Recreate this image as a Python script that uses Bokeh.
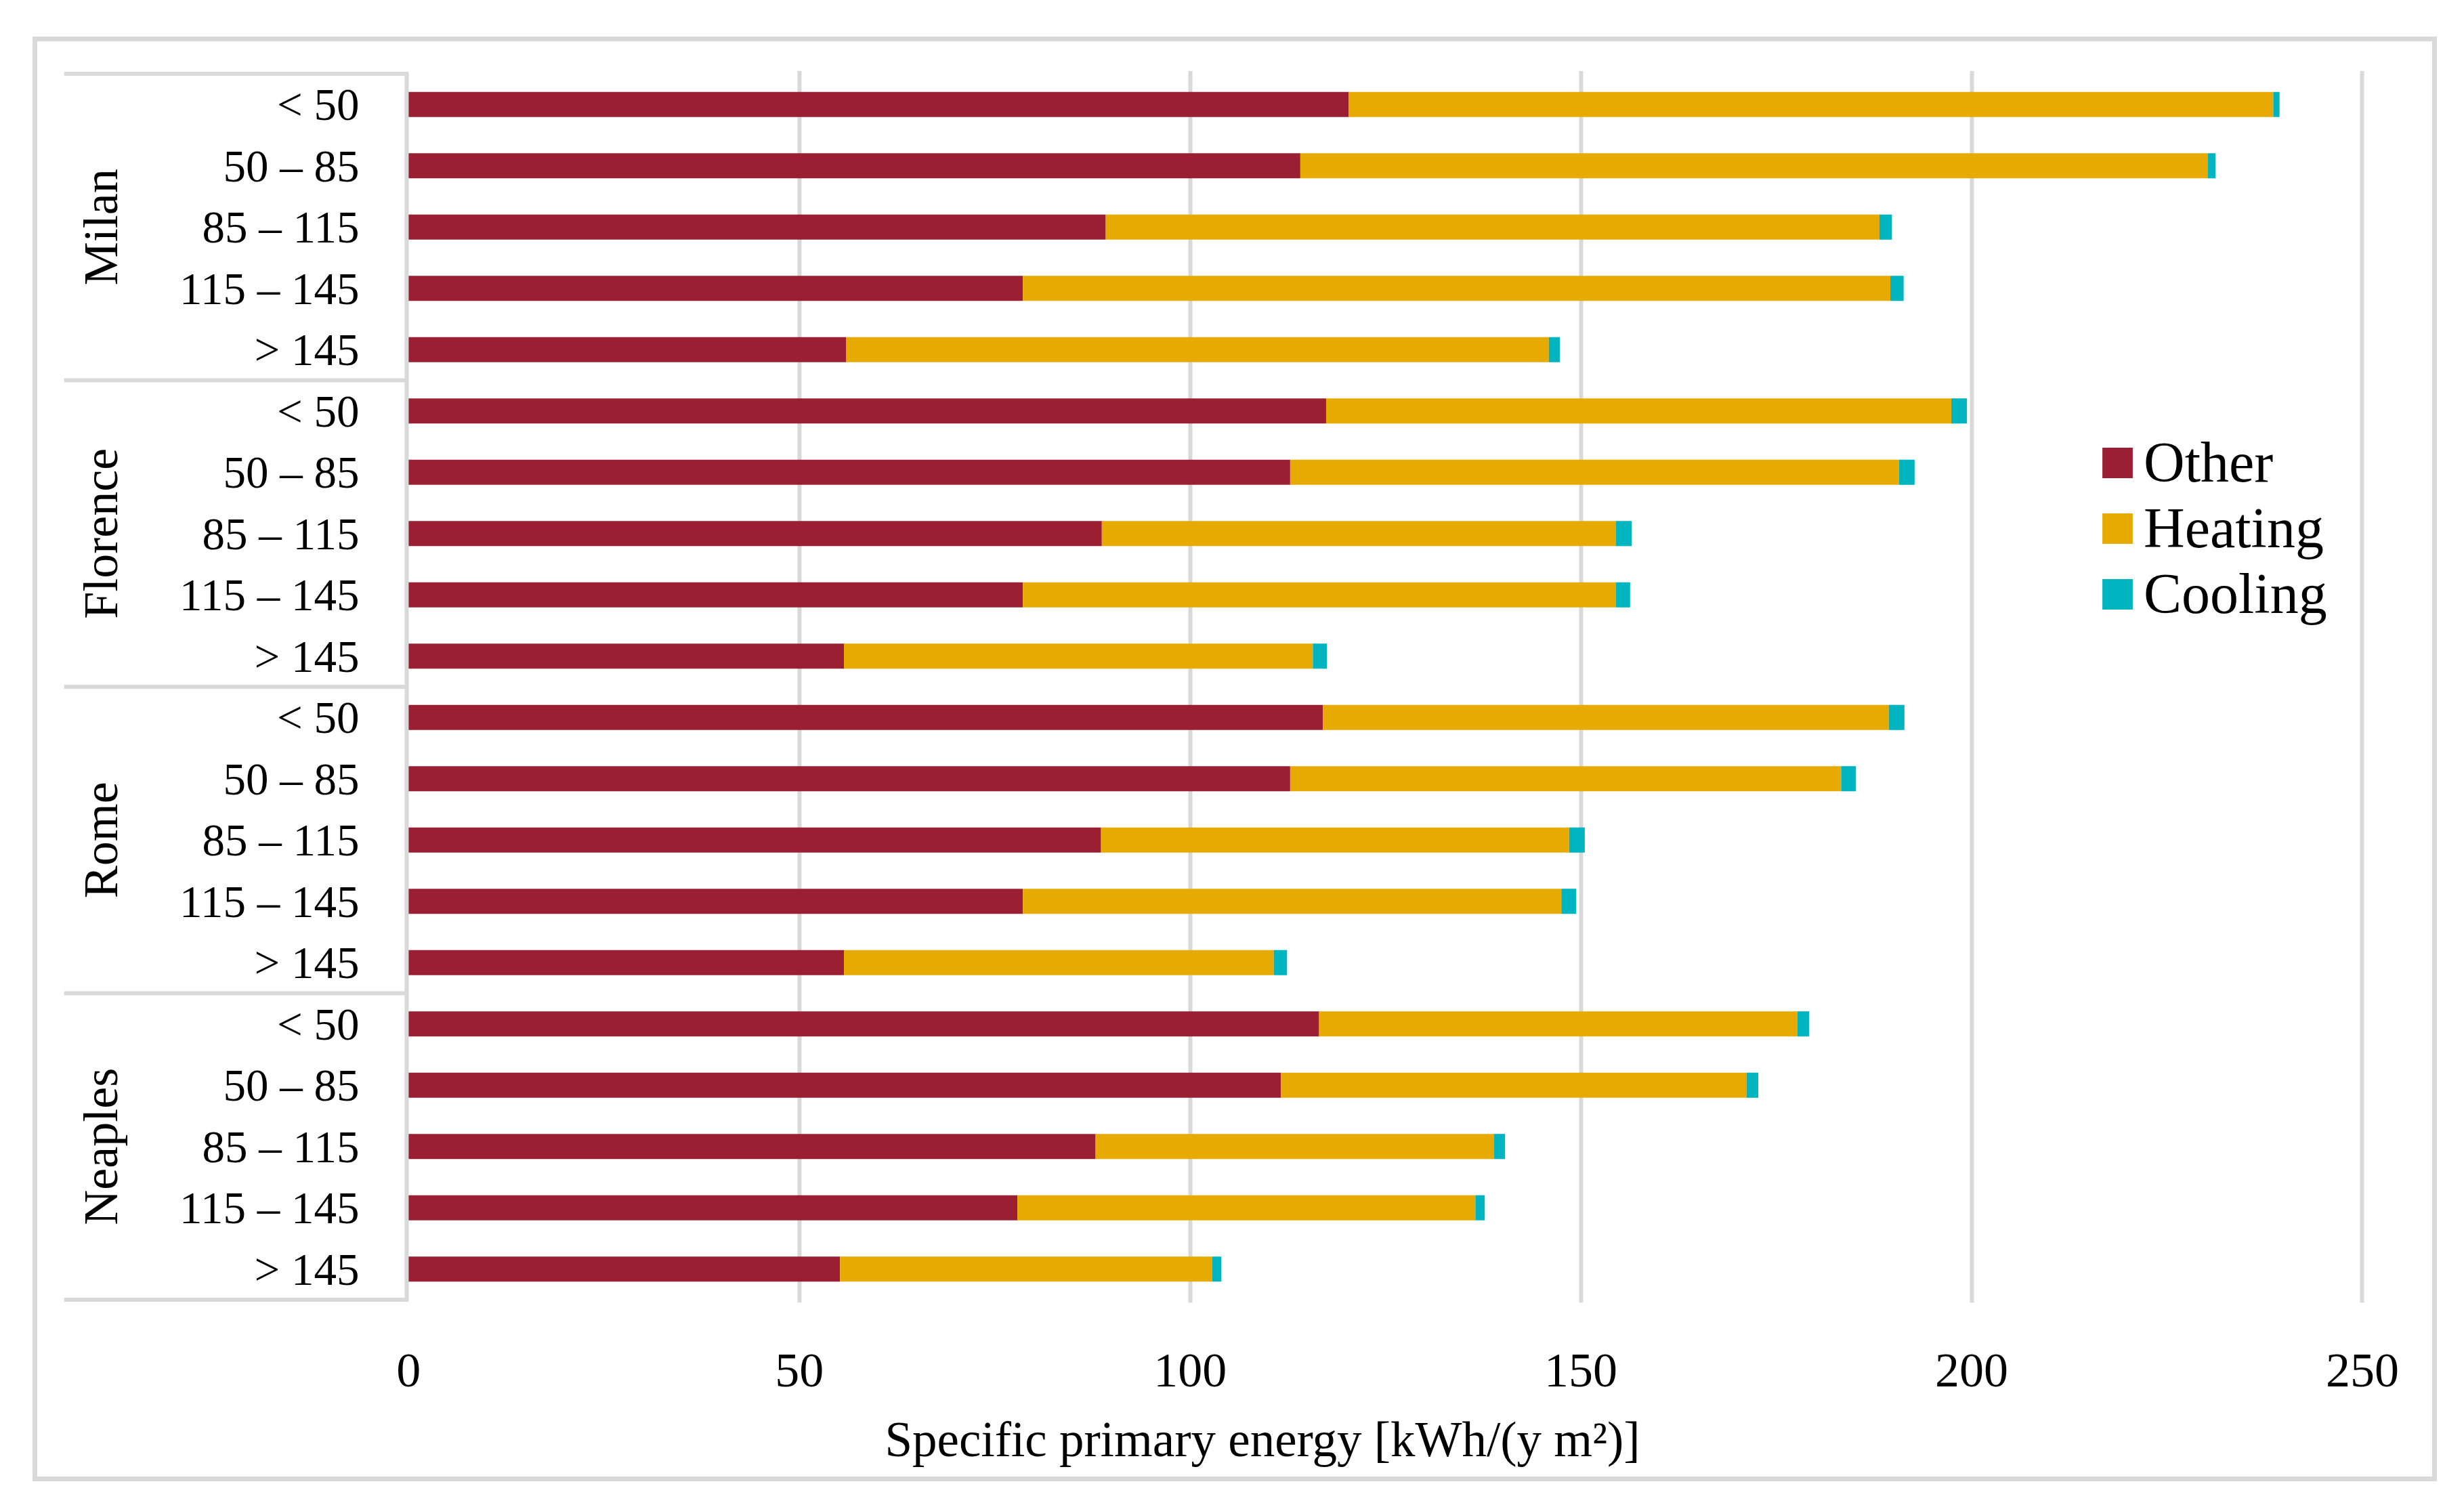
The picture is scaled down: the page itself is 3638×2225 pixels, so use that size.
import numpy as np
from bokeh.plotting import figure
from bokeh.models import (ColumnDataSource, FactorRange, Range1d, FixedTicker,
                          Legend, LegendItem, Title)
from bokeh.core.properties import value
from bokeh.embed import file_html
from bokeh.resources import INLINE

# ---------------- data ----------------
cities = ["Milan", "Florence", "Rome", "Neaples"]
bands = ["< 50", "50 – 85", "85 – 115", "115 – 145", "> 145"]
series = ["Other", "Heating", "Cooling"]

other = [120.3, 114.1, 89.2, 78.6, 56.0,
         117.4, 112.8, 88.7, 78.6, 55.7,
         117.0, 112.8, 88.6, 78.6, 55.7,
         116.5, 111.6, 87.9, 77.9, 55.2]
heating = [118.3, 116.1, 99.0, 111.0, 89.9,
           80.0, 77.9, 65.8, 75.9, 60.0,
           72.4, 70.5, 59.9, 68.9, 55.0,
           61.2, 59.6, 51.0, 58.6, 47.6]
cooling = [0.8, 1.0, 1.6, 1.7, 1.4,
           2.0, 2.0, 2.0, 1.8, 1.8,
           2.0, 1.9, 2.0, 1.9, 1.7,
           1.5, 1.5, 1.4, 1.2, 1.2]

x_ticks = [0, 50, 100, 150, 200, 250]
x_title = "Specific primary energy [kWh/(y m²)]"

colors = ["#9B1F33", "#E6AA00", "#00B4C0"]
GRID = "#d9d9d9"
FONT = "Liberation Serif"

factors = [(c, b) for c in cities for b in bands]

y_range = FactorRange(factors=list(reversed(factors)), factor_padding=0,
                      group_padding=0, range_padding=0.05,
                      range_padding_units="absolute")
X0 = -44.1
p = figure(width=3536, height=2119, x_range=Range1d(X0, 251), y_range=y_range,
           output_backend="svg", toolbar_location=None,
           min_border_left=39, min_border_right=106, min_border_top=43,
           min_border_bottom=271, margin=(54, 0, 0, 48),
           styles={"border": "7px solid #d9d9d9", "box-sizing": "content-box"})
p.title.visible = False
p.outline_line_color = None
p.background_fill_color = "white"
p.border_fill_color = "white"

# grid
p.ygrid.visible = False
p.xgrid.ticker = FixedTicker(ticks=x_ticks[1:])
p.xgrid.grid_line_color = GRID
p.xgrid.grid_line_width = 6

# table lines of the category axis
sep_y = [(cities[0], bands[0], 0.5)] + [(c, bands[-1], -0.5) for c in cities]
p.segment(x0=[X0] * len(sep_y), y0=sep_y, x1=[0] * len(sep_y), y1=sep_y,
          line_color=GRID, line_width=6)
p.segment(x0=[-0.25], y0=[(cities[-1], bands[-1], -0.5)], x1=[-0.25],
          y1=[(cities[0], bands[0], 0.5)], line_color=GRID, line_width=6)

# bars
source = ColumnDataSource(dict(y=factors, Other=other, Heating=heating, Cooling=cooling))
rs = p.hbar_stack(series, y="y", height=0.41, fill_color=colors,
                  line_color=None, source=source)

# group labels
p.text(x=[-39.35] * len(cities), y=[(c, bands[2]) for c in cities], text=cities,
       angle=np.pi / 2, text_align="center", text_baseline="middle",
       text_font=value(FONT), text_font_size="72px", text_color="black")

# y axis (sub-category labels)
ya = p.yaxis[0]
ya.fixed_location = -0.25
ya.axis_line_color = None
ya.major_tick_line_color = None
ya.major_tick_in = 0
ya.major_tick_out = 0
ya.major_label_standoff = 70
ya.major_label_text_font = FONT
ya.major_label_text_font_size = "67px"
ya.major_label_text_color = "black"
ya.group_text_color = None
ya.separator_line_color = None

# x axis
xa = p.xaxis[0]
xa.ticker = FixedTicker(ticks=x_ticks)
xa.axis_line_color = None
xa.major_tick_line_color = None
xa.minor_tick_line_color = None
xa.major_tick_in = 0
xa.major_tick_out = 0
xa.major_label_standoff = 76
xa.major_label_text_font = FONT
xa.major_label_text_font_size = "72px"
xa.major_label_text_color = "black"

# spacer between tick labels and the axis title
p.add_layout(Title(text="\u00a0", standoff=30, text_font_size="1px"), "below")
t = Title(text=x_title, align="left", offset=1212, standoff=0,
          text_font=FONT, text_font_size="73px", text_font_style="normal",
          text_color="black")
p.add_layout(t, "below")

legend = Legend(items=[LegendItem(label=s, renderers=[r]) for s, r in zip(series, rs)],
                location=(3004, 998), glyph_width=56, glyph_height=56,
                label_standoff=11, spacing=0, padding=0, margin=0,
                border_line_color=None, background_fill_alpha=0,
                label_text_font=FONT, label_text_font_size="84px",
                label_text_baseline="alphabetic", label_text_color="black")
p.add_layout(legend)

open("out.html", "w").write(file_html(p, INLINE))
